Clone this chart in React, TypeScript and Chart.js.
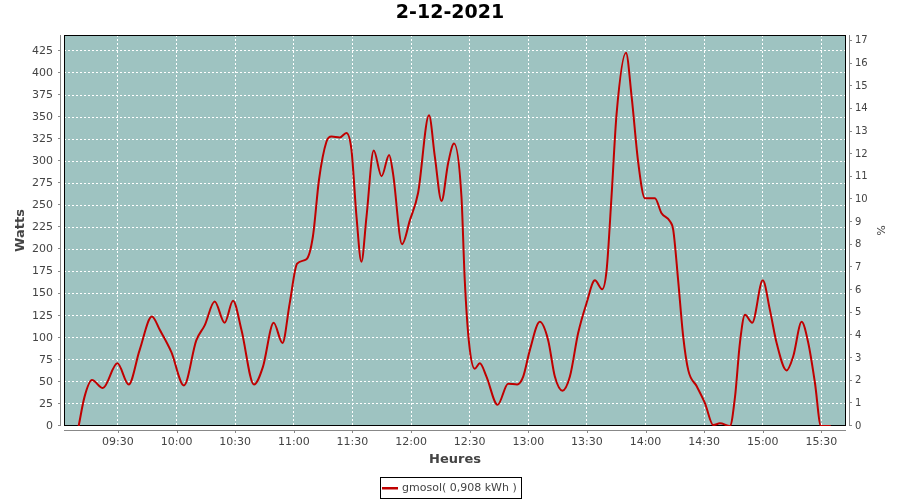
import React, { useEffect, useRef } from "react";
import { Chart, registerables } from "chart.js";

Chart.register(...registerables);

const FONT = "'DejaVu Sans', 'Liberation Sans', sans-serif";

const chartTitle = "2-12-2021";
const xTitle = "Heures";
const yTitle = "Watts";
const y1Title = "%";
const legendLabel = "gmosol( 0,908 kWh )";

// time in minutes since midnight
const minutes = [
  549.9, 552.9, 556.7, 562.3, 569.7, 575.5, 581.1, 587.4, 591.4, 597.3,
  603.8, 610.1, 614.4, 619.5, 624.6, 628.9, 633.2, 639.6, 644.2, 649.7,
  654.2, 657.9, 661.7, 666.5, 669.8, 672.9, 676.7, 679.3, 683.5, 686.9,
  689.5, 692.1, 694.6, 697.2, 700.9, 704.9, 708.8, 710.8, 715.4, 719.4,
  723.6, 729.2, 732.2, 735.6, 739, 742, 745.8, 747.5, 749.7, 752.6,
  755.2, 758.6, 764.3, 769.7, 774.3, 777.4, 780.8, 785.9, 790.2, 793.6,
  797.5, 801.3, 805.5, 809.8, 814.1, 817.8, 820.1, 822.6, 825.2, 830,
  832.9, 836.3, 839.7, 844.8, 848.2, 852.5, 854.2, 856.7, 859.3, 861.9,
  866.2, 870.4, 874.7, 878.1, 883.2, 885.8, 888.3, 890.9, 894.6, 900,
  903.7, 907.1, 912.2, 915.6, 919.9, 923.3, 926.7, 929.8, 934.8,
];

const watts = [
  0, 33, 52, 43, 71, 47, 86, 124, 109, 84,
  46, 97, 114, 141, 117, 142, 109, 47, 67, 117,
  94, 139, 184, 189, 215, 279, 322, 328, 327, 332,
  313, 237, 186, 237, 312, 283, 307, 286, 206, 233,
  264, 352, 305, 255, 298, 320, 260, 165, 94, 65,
  71, 56, 24, 48, 47, 56, 86, 118, 97, 56,
  40, 56, 105, 139, 165, 155, 177, 260, 354, 423,
  373, 298, 258, 258, 241, 232, 222, 165, 101, 63,
  45, 26, 1, 3, 0, 33, 94, 126, 117, 165,
  131, 94, 63, 79, 118, 94, 49, 0, 0,
];

const timeTicks = [570, 600, 630, 660, 690, 720, 750, 780, 810, 840, 870, 900, 930];
const wattTicks = [0, 25, 50, 75, 100, 125, 150, 175, 200, 225, 250, 275, 300, 325, 350, 375, 400, 425];
const pctTicks = [0, 1, 2, 3, 4, 5, 6, 7, 8, 9, 10, 11, 12, 13, 14, 15, 16, 17];

const X_MIN = 542.4;
const X_MAX = 942.6;
const W_MAX = 443;
const P_MAX = 17.26;

const PLOT_BG = "#9EC3C1";
const LINE_COLOR = "#C00000";
const AXIS_GRAY = "#888888";
const TEXT_GRAY = "#444444";

function fmtTime(m: number) {
  const h = Math.floor(m / 60);
  const mm = Math.round(m - h * 60);
  return String(h).padStart(2, "0") + ":" + String(mm).padStart(2, "0");
}

const decorPlugin = {
  id: "decor",
  beforeDraw(chart: any) {
    const { ctx, chartArea: a } = chart;
    ctx.save();
    ctx.fillStyle = "#ffffff";
    ctx.fillRect(0, 0, chart.width, chart.height);
    ctx.fillStyle = PLOT_BG;
    ctx.fillRect(a.left, a.top, a.right - a.left, a.bottom - a.top);
    ctx.restore();
  },
  beforeDatasetsDraw(chart: any) {
    const { ctx, chartArea: a, scales } = chart;
    ctx.save();
    ctx.lineWidth = 1;
    ctx.strokeStyle = "#000000";
    ctx.strokeRect(a.left + 0.5, a.top + 0.5, a.right - a.left - 1, a.bottom - a.top - 1);

    ctx.strokeStyle = AXIS_GRAY;
    const line = (x1: number, y1: number, x2: number, y2: number) => {
      ctx.beginPath();
      ctx.moveTo(x1, y1);
      ctx.lineTo(x2, y2);
      ctx.stroke();
    };
    // left axis
    const lx = a.left - 4 + 0.5;
    line(lx, a.top, lx, a.bottom);
    scales.y.ticks.forEach((t: any) => {
      const y = Math.round(scales.y.getPixelForValue(t.value)) - 0.5;
      line(lx - 2.5, y, lx, y);
    });
    // right axis
    const rx = a.right + 3 + 0.5;
    line(rx, a.top, rx, a.bottom);
    scales.y1.ticks.forEach((t: any) => {
      const y = Math.round(scales.y1.getPixelForValue(t.value)) - 0.5;
      line(rx, y, rx + 2.5, y);
    });
    // bottom axis
    const by = a.bottom + 4 + 0.5;
    line(a.left, by, a.right, by);
    scales.x.ticks.forEach((t: any) => {
      const x = Math.round(scales.x.getPixelForValue(t.value)) + 0.5;
      line(x, by, x, by + 2.5);
    });
    ctx.restore();
  },
  afterDraw(chart: any) {
    const { ctx } = chart;
    ctx.save();
    ctx.font = "11px " + FONT;
    const tw = ctx.measureText(legendLabel).width;
    const w = 2 + 16 + 4 + tw + 4;
    const h = 21;
    const left = Math.round(chart.width / 2 - w / 2);
    const top = 477;
    ctx.strokeStyle = "#000000";
    ctx.lineWidth = 1;
    ctx.strokeRect(left + 0.5, top + 0.5, Math.round(w), h);
    ctx.fillStyle = LINE_COLOR;
    ctx.fillRect(left + 2, top + 10, 16, 2.5);
    ctx.fillStyle = TEXT_GRAY;
    ctx.textBaseline = "middle";
    ctx.textAlign = "left";
    ctx.fillText(legendLabel, left + 22, top + 11.5);
    ctx.restore();
  },
};

export default function App() {
  const canvasRef = useRef<HTMLCanvasElement | null>(null);

  useEffect(() => {
    if (!canvasRef.current) return;
    const points = minutes.map((m, i) => ({ x: m, y: watts[i] }));
    const chart = new Chart(canvasRef.current, {
      type: "line",
      data: {
        datasets: [
          {
            label: legendLabel,
            data: points,
            borderColor: LINE_COLOR,
            backgroundColor: LINE_COLOR,
            borderWidth: 2,
            pointRadius: 0,
            fill: false,
            cubicInterpolationMode: "monotone",
            yAxisID: "y",
          },
        ],
      },
      options: {
        responsive: false,
        animation: false,
        devicePixelRatio: 1,
        layout: { padding: { left: 0, right: 0, top: 0, bottom: 0 } },
        plugins: {
          legend: { display: false },
          tooltip: { enabled: false },
          title: {
            display: true,
            text: chartTitle,
            color: "#000000",
            font: { family: FONT, size: 19, weight: "bold" },
            padding: { top: 2, bottom: 10.2 },
          },
        },
        scales: {
          x: {
            type: "linear",
            min: X_MIN,
            max: X_MAX,
            afterBuildTicks: (s: any) => {
              s.ticks = timeTicks.map((v) => ({ value: v }));
            },
            afterFit: (s: any) => {
              s.height = 74;
            },
            grid: { color: "#ffffff", lineWidth: 1, drawTicks: false },
            border: { display: false, dash: [2, 2] },
            ticks: {
              color: TEXT_GRAY,
              font: { family: FONT, size: 11 },
              padding: 10,
              maxRotation: 0,
              autoSkip: false,
              callback: (v: any) => fmtTime(Number(v)),
            },
            title: {
              display: true,
              text: xTitle,
              color: TEXT_GRAY,
              font: { family: FONT, size: 13, weight: "bold" },
              padding: { top: 0, bottom: 32.2 },
            },
          },
          y: {
            type: "linear",
            position: "left",
            min: 0,
            max: W_MAX,
            afterBuildTicks: (s: any) => {
              s.ticks = wattTicks.map((v) => ({ value: v }));
            },
            afterFit: (s: any) => {
              s.width = 64;
            },
            grid: { color: "#ffffff", lineWidth: 1, drawTicks: false },
            border: { display: false, dash: [2, 2] },
            ticks: {
              color: TEXT_GRAY,
              font: { family: FONT, size: 11 },
              padding: 11,
              autoSkip: false,
            },
            title: {
              display: true,
              text: yTitle,
              color: TEXT_GRAY,
              font: { family: FONT, size: 13, weight: "bold" },
              padding: { top: 13, bottom: 0 },
            },
          },
          y1: {
            type: "linear",
            position: "right",
            min: 0,
            max: P_MAX,
            afterBuildTicks: (s: any) => {
              s.ticks = pctTicks.map((v) => ({ value: v }));
            },
            afterFit: (s: any) => {
              s.width = 54;
            },
            grid: { drawOnChartArea: false, drawTicks: false },
            border: { display: false },
            ticks: {
              color: TEXT_GRAY,
              font: { family: FONT, size: 10 },
              padding: 9,
              autoSkip: false,
            },
            title: {
              display: true,
              text: y1Title,
              color: TEXT_GRAY,
              font: { family: FONT, size: 11 },
              padding: { top: 13.4, bottom: 0 },
            },
          },
        },
      },
      plugins: [decorPlugin],
    } as any);
    return () => chart.destroy();
  }, []);

  return (
    <div style={{ position: "fixed", left: 0, top: 0, width: 900, height: 500 }}>
      <canvas ref={canvasRef} width={900} height={500} style={{ width: 900, height: 500 }} />
    </div>
  );
}
